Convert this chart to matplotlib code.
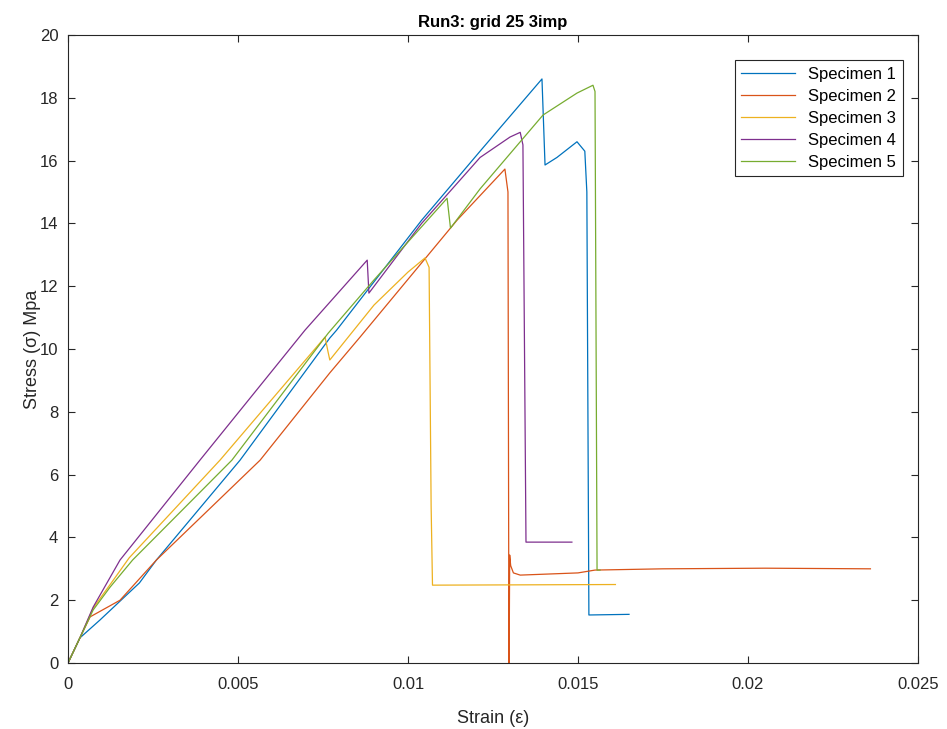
import numpy as np
import matplotlib
matplotlib.use('Agg')
import matplotlib.pyplot as plt

# specimen curves (strain, stress MPa)
s1_x = [0, 0.00035, 0.00094, 0.0021, 0.0026, 0.00506, 0.0077, 0.0079, 0.0104, 0.01212, 0.01394,
        0.01403, 0.01438, 0.01497, 0.0152, 0.01526, 0.01532, 0.0165]
s1_y = [0, 0.8, 1.37, 2.55, 3.28, 6.46, 10.35, 10.6, 14.1, 16.3, 18.6,
        15.86, 16.1, 16.6, 16.3, 15.0, 1.53, 1.55]

s2_x = [0, 0.00035, 0.00065, 0.00153, 0.0026, 0.00565, 0.0077, 0.00859, 0.01144, 0.01285, 0.01294,
        0.01297, 0.01299, 0.01302, 0.0131, 0.0133, 0.015, 0.0155, 0.0175, 0.0205, 0.0236]
s2_y = [0, 0.8, 1.47, 2.0, 3.28, 6.46, 9.24, 10.38, 14.1, 15.73, 15.0,
        -1.0, 3.44, 3.1, 2.87, 2.8, 2.87, 2.96, 3.0, 3.02, 3.0]

s3_x = [0, 0.00035, 0.00074, 0.00124, 0.0018, 0.00447, 0.00756, 0.00765, 0.0077, 0.0090, 0.0100,
        0.0105, 0.01062, 0.01068, 0.01072, 0.0161]
s3_y = [0, 0.8, 1.75, 2.5, 3.35, 6.46, 10.38, 9.9, 9.65, 11.4, 12.45,
        12.9, 12.6, 5.0, 2.48, 2.5]

s4_x = [0, 0.00035, 0.00074, 0.00153, 0.00388, 0.00697, 0.0088, 0.00885, 0.0104, 0.01212, 0.0130,
        0.0133, 0.01338, 0.01347, 0.01482]
s4_y = [0, 0.8, 1.78, 3.28, 6.46, 10.6, 12.83, 11.78, 14.0, 16.1, 16.75,
        16.9, 16.5, 3.85, 3.85]

s5_x = [0, 0.00035, 0.00074, 0.00124, 0.0019, 0.00482, 0.00765, 0.0090, 0.01115, 0.01125, 0.01212,
        0.01397, 0.01497, 0.01544, 0.0155, 0.01556, 0.01565]
s5_y = [0, 0.8, 1.69, 2.42, 3.28, 6.46, 10.5, 12.2, 14.8, 13.85, 15.1,
        17.45, 18.15, 18.4, 18.2, 2.96, 2.96]

labels = ['Specimen 1', 'Specimen 2', 'Specimen 3', 'Specimen 4', 'Specimen 5']
colors = ['#0072BD', '#D95319', '#EDB120', '#7E2F8E', '#77AC30']

plt.rcParams['font.family'] = ['Liberation Sans', 'DejaVu Sans']

fig = plt.figure(figsize=(9.47, 7.29), dpi=100)
ax = fig.add_axes([0.0718, 0.0905, 0.8976, 0.8615])

series = [(s1_x, s1_y), (s2_x, s2_y), (s3_x, s3_y), (s4_x, s4_y), (s5_x, s5_y)]
for (xs, ys), lab, c in zip(series, labels, colors):
    ax.plot(xs, ys, color=c, lw=0.9, label=lab)

ax.set_xlim(0, 0.025)
ax.set_ylim(0, 20)
ax.set_xticks([0, 0.005, 0.01, 0.015, 0.02, 0.025])
ax.set_xticklabels(['0', '0.005', '0.01', '0.015', '0.02', '0.025'])
ax.set_yticks(range(0, 21, 2))

axc = '#262626'
for sp in ax.spines.values():
    sp.set_color(axc)
    sp.set_linewidth(0.8)
ax.tick_params(direction='in', top=True, right=True, length=5, width=0.8,
               color=axc, labelcolor=axc, labelsize=12)
ax.tick_params(axis='x', pad=10)
ax.tick_params(axis='y', pad=7)

ax.set_xlabel('Strain (ε)', fontsize=13, color=axc, labelpad=13)
ax.set_ylabel('Stress (σ) Mpa', fontsize=13, color=axc, labelpad=-1)
ax.set_title('Run3: grid 25 3imp', fontsize=12, fontweight='bold', color='black')

leg = ax.legend(loc='upper right', bbox_to_anchor=(0.982, 0.960), fontsize=12,
                fancybox=False, edgecolor=axc, framealpha=1, borderaxespad=0,
                handlelength=3.2, labelspacing=0.42)
leg.get_frame().set_linewidth(0.8)

fig.savefig('out.png', dpi=100)
